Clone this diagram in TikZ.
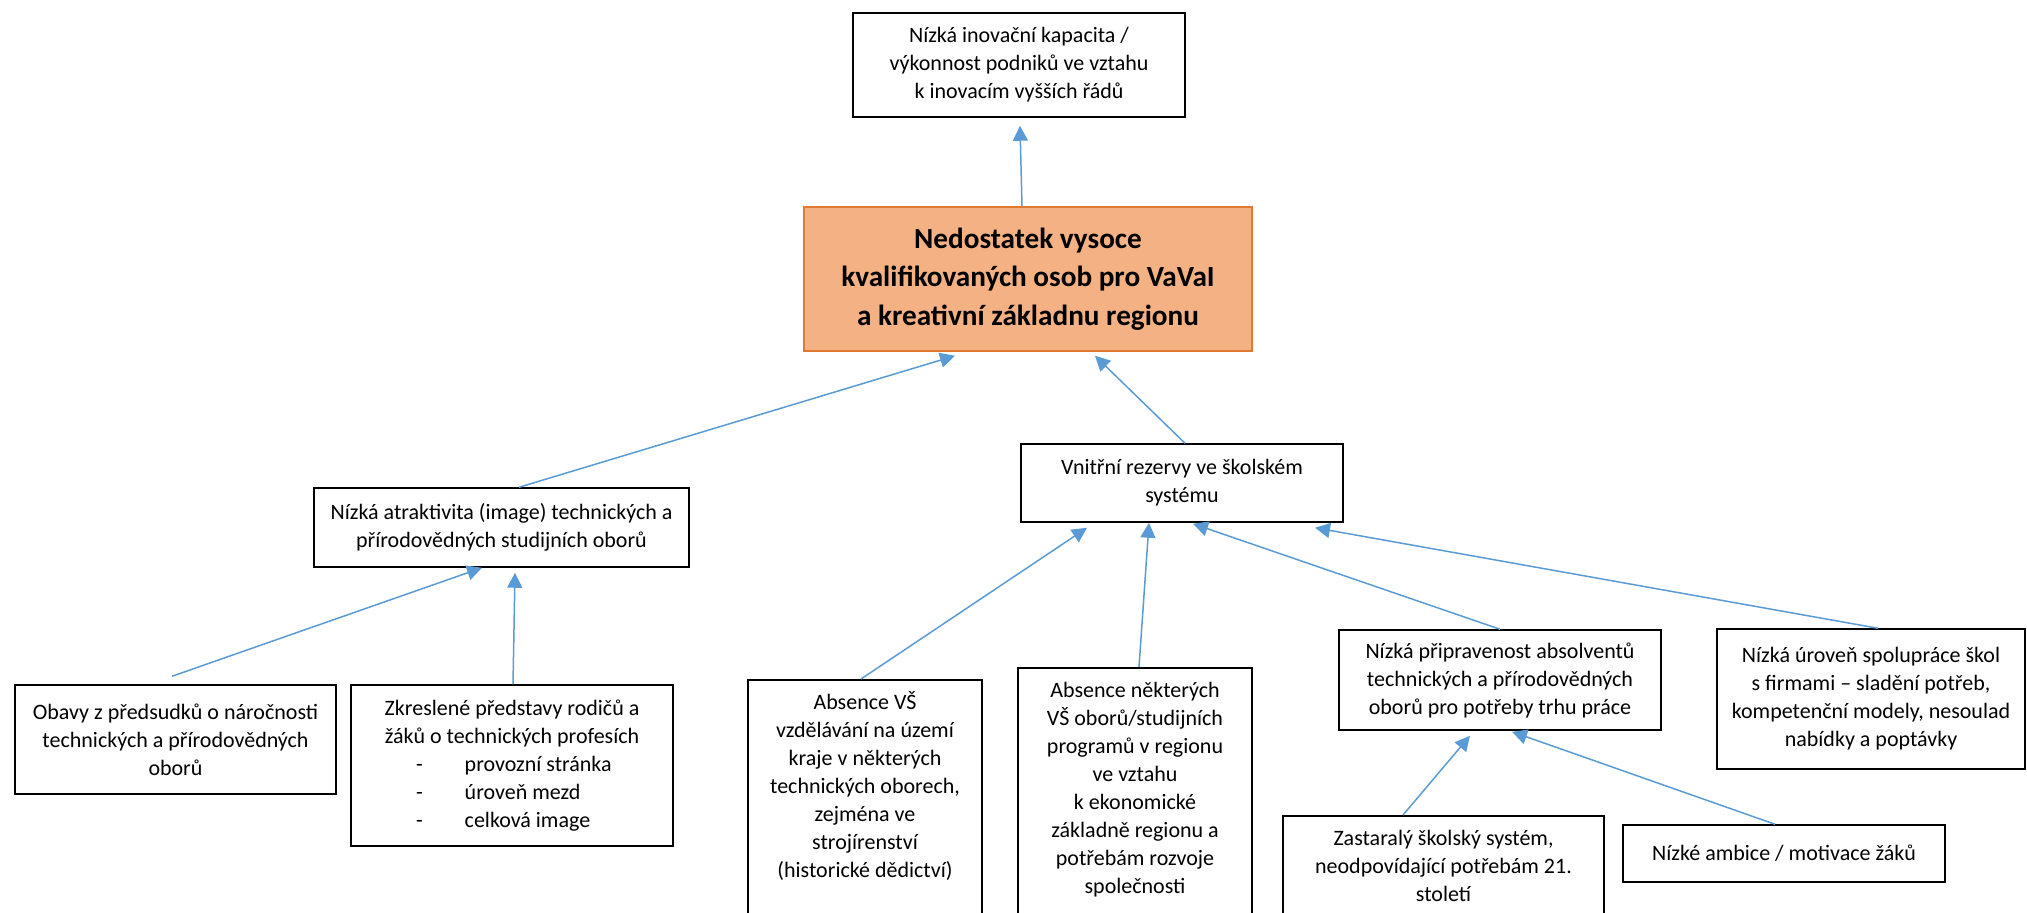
\documentclass[tikz,border=0pt]{standalone}
\usepackage{fontspec}
\setmainfont{Carlito}
\usetikzlibrary{arrows.meta,calc}
\definecolor{modra}{HTML}{5B9BD5}
\definecolor{oranzova}{HTML}{F4B183}
\definecolor{oranzovaokraj}{HTML}{E07A33}
\tikzset{
  ramec/.style={draw, line width=0.75pt, align=center, inner sep=3pt, font=\fontsize{11}{14}\selectfont},
  hlavni/.style={ramec, fill=oranzova, draw=oranzovaokraj, font=\bfseries\fontsize{14.6}{19.2}\selectfont},
  otevreny/.style={ramec, align=flush center, anchor=north, text height=10pt, text depth=140pt, inner ysep=5pt},
  sipka/.style={draw=modra, line width=0.75pt, -{Triangle[length=7.5pt,width=7.5pt]}}
}
\newcommand{\odrazka}[1]{\makebox[96pt][l]{-\hspace{21pt}#1}}

\begin{document}
\begin{tikzpicture}[x=0.5pt, y=-0.5pt]
        \useasboundingbox (0,0) rectangle (2027,912);
        % Horni cast
        \node[ramec, minimum width=166pt, minimum height=52pt] (inovace) at (1019,65) {Nízká inovační kapacita /\\ výkonnost podniků ve vztahu\\ k inovacím vyšších řádů};
        \node[hlavni, minimum width=224pt, minimum height=72pt] (nedostatek) at (1028,279) {Nedostatek vysoce\\ kvalifikovaných osob pro VaVaI\\ a kreativní základnu regionu};
        % Druha uroven
        \node[ramec, minimum width=187.5pt, minimum height=39.5pt] (atraktivita) at (501.5,527.5) {Nízká atraktivita (image) technických a\\ přírodovědných studijních oborů};
        \node[ramec, minimum width=161pt, minimum height=39pt] (rezervy) at (1182,483) {Vnitřní rezervy ve školském\\ systému};
        % Prichiny atraktivity
        \node[ramec, minimum width=160.5pt, minimum height=54.5pt] (obavy) at (175.5,739.5) {Obavy z předsudků o náročnosti\\ technických a přírodovědných\\ oborů};
        \node[ramec, minimum width=161pt, minimum height=80.5pt] (predstavy) at (512,765.5) {Zkreslené představy rodičů a\\ žáků o technických profesích\\ \odrazka{provozní stránka}\\ \odrazka{úroveň mezd}\\ \odrazka{celková image}};
        % Prichiny rezerv
        \node[otevreny, text width=111pt] (absenceVS) at (865,679) {Absence VŠ\\ vzdělávání na území\\ kraje v některých\\ technických oborech,\\ zejména ve\\ strojírenství\\ (historické dědictví)};
        \node[otevreny, text width=111pt] (absenceOboru) at (1135,667) {Absence některých\\ VŠ oborů/studijních\\ programů v regionu\\ ve vztahu\\ k ekonomické\\ základně regionu a\\ potřebám rozvoje\\ společnosti};
        \node[ramec, minimum width=161pt, minimum height=50pt] (pripravenost) at (1500,680) {Nízká připravenost absolventů\\ technických a přírodovědných\\ oborů pro potřeby trhu práce};
        \node[ramec, minimum width=154pt, minimum height=70pt] (spoluprace) at (1871,699) {Nízká úroveň spolupráce škol\\ s firmami – sladění potřeb,\\ kompetenční modely, nesoulad\\ nabídky a poptávky};
        % Prichiny pripravenosti
        \node[otevreny, text width=154.5pt] (zastaraly) at (1443.5,815) {Zastaralý školský systém,\\ neodpovídající potřebám 21.\\ století};
        \node[ramec, minimum width=161pt, minimum height=28.5pt] (ambice) at (1784,853.5) {Nízké ambice / motivace žáků};
        % Sipky
        \draw[sipka] ($(nedostatek.north)+(-6,0)$) -- ($(inovace.south)+(1,8)$);
        \draw[sipka] ($(atraktivita.north)+(17.5,0)$) -- ($(nedostatek.south)+(-73,4)$);
        \draw[sipka] ($(rezervy.north)+(3,0)$) -- ($(nedostatek.south)+(67,4)$);
        \draw[sipka] ($(obavy.north)+(-3.5,-8)$) -- ($(atraktivita.south)+(-19.5,0)$);
        \draw[sipka] ($(predstavy.north)+(1,0)$) -- ($(atraktivita.south)+(13.5,5)$);
        \draw[sipka] ($(absenceVS.north)+(-4,0)$) -- ($(rezervy.south)+(-95,5)$);
        \draw[sipka] ($(absenceOboru.north)+(4,0)$) -- ($(rezervy.south)+(-33,0)$);
        \draw[sipka] (pripravenost.north) -- ($(rezervy.south)+(11,1)$);
        \draw[sipka] ($(spoluprace.north)+(7,0)$) -- ($(rezervy.south)+(133,5)$);
        \draw[sipka] ($(zastaraly.north)+(-40.5,0)$) -- ($(pripravenost.south)+(-30,5)$);
        \draw[sipka] ($(ambice.north)+(-9,0)$) -- ($(pripravenost.south)+(12,1)$);
\end{tikzpicture}
\end{document}
